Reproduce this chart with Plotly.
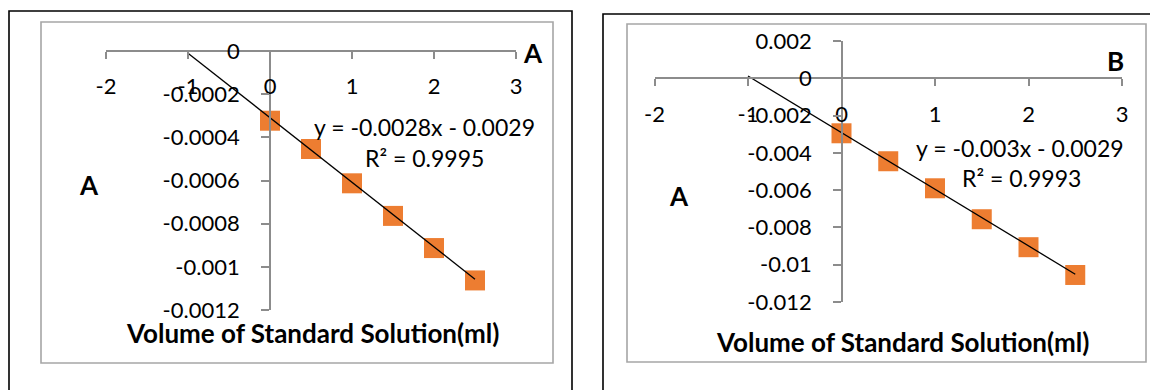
import plotly.graph_objects as go

# page body has an 8px default margin; the figure is sized so that the
# visible 1158x390 window is filled exactly
OFF = 8
W, H = 1158 - OFF, 390 - OFF

# ---------------- data ----------------
vol = [0, 0.5, 1, 1.5, 2, 2.5]
abs_a = [-0.000323, -0.000454, -0.000613, -0.000764, -0.000913, -0.001063]
abs_b = [-0.00295, -0.00445, -0.0059, -0.00756, -0.00906, -0.01055]

trend_x = [-1, 2.5]
trend_a = [-0.00001, -0.001057]
trend_b = [0.00012, -0.01051]

x_ticks = [-2, -1, 0, 1, 2, 3]
x_ticktext = ["-2", "-1", "0", "1", "2", "3"]
ya_ticks = [0, -0.0002, -0.0004, -0.0006, -0.0008, -0.001, -0.0012]
ya_ticktext = ["0", "-0.0002", "-0.0004", "-0.0006", "-0.0008", "-0.001", "-0.0012"]
yb_ticks = [0.002, 0, -0.002, -0.004, -0.006, -0.008, -0.01, -0.012]
yb_ticktext = ["0.002", "0", "-0.002", "-0.004", "-0.006", "-0.008", "-0.01", "-0.012"]

eq_a = ["y = -0.0028x - 0.0029", "R² = 0.9995"]
eq_b = ["y = -0.003x - 0.0029", "R² = 0.9993"]
x_title = "Volume of Standard Solution(ml)"
y_title = "A"
corner_a = "A"
corner_b = "B"


def fx(p):
    return (p - OFF) / W


def fy(p):
    return 1 - (p - OFF) / H


FONT = "Lato"
ORANGE = "#ED7D31"
AXC = "#8C8C8C"

fig = go.Figure()

fig.add_trace(go.Scatter(x=vol, y=abs_a, mode="markers", xaxis="x", yaxis="y",
                         marker=dict(symbol="square", size=20, color=ORANGE, line=dict(width=0)),
                         cliponaxis=False, showlegend=False))
fig.add_trace(go.Scatter(x=trend_x, y=trend_a, mode="lines", xaxis="x", yaxis="y",
                         line=dict(color="black", width=1.3), cliponaxis=False, showlegend=False))
fig.add_trace(go.Scatter(x=vol, y=abs_b, mode="markers", xaxis="x2", yaxis="y2",
                         marker=dict(symbol="square", size=20, color=ORANGE, line=dict(width=0)),
                         cliponaxis=False, showlegend=False))
fig.add_trace(go.Scatter(x=trend_x, y=trend_b, mode="lines", xaxis="x2", yaxis="y2",
                         line=dict(color="black", width=1.3), cliponaxis=False, showlegend=False))

tickfont = dict(family=FONT, size=22, color="black")
common = dict(showgrid=False, zeroline=False, showline=True, linecolor=AXC, linewidth=1.8,
              ticks="outside", tickcolor=AXC, tickwidth=1.5, tickfont=tickfont,
              automargin=False)

fig.update_layout(
    template="none",
    width=W, height=H, autosize=False,
    margin=dict(l=0, r=0, t=0, b=0, pad=0),
    paper_bgcolor="white", plot_bgcolor="rgba(0,0,0,0)",
    showlegend=False,
    xaxis=dict(domain=[fx(106), fx(516)], range=[-2, 3], anchor="free", position=fy(51),
               side="bottom", tickvals=x_ticks, ticktext=x_ticktext, ticklen=7,
               ticklabelstandoff=9, **common),
    yaxis=dict(domain=[fy(310), fy(51)], range=[-0.0012, 0], anchor="free", position=fx(270),
               side="left", tickvals=ya_ticks, ticktext=ya_ticktext, ticklen=8,
               ticklabelstandoff=17, **common),
    xaxis2=dict(domain=[fx(654.5), fx(1122)], range=[-2, 3], anchor="free",
                position=fy(78.3), side="bottom", tickvals=x_ticks, ticktext=x_ticktext,
                ticklen=7, ticklabelstandoff=9, **common),
    yaxis2=dict(domain=[fy(302), fy(41)], range=[-0.012, 0.002], anchor="free",
                position=fx(842), side="left", tickvals=yb_ticks, ticktext=yb_ticktext,
                ticklen=8, ticklabelstandoff=17, **common),
)

shapes = [
    # outer black frames
    dict(type="path", xref="paper", yref="paper",
         path=f"M {fx(9)},{fy(420)} L {fx(9)},{fy(11)} L {fx(572)},{fy(11)} L {fx(572)},{fy(420)}",
         line=dict(color="black", width=1.6)),
    dict(type="path", xref="paper", yref="paper",
         path=f"M {fx(603)},{fy(420)} L {fx(603)},{fy(14)} L {fx(1170)},{fy(14)}",
         line=dict(color="black", width=1.6)),
    # inner chart-area frames
    dict(type="rect", xref="paper", yref="paper", x0=fx(41), x1=fx(553), y0=fy(363), y1=fy(22),
         line=dict(color="#A6A6A6", width=1.6)),
    dict(type="rect", xref="paper", yref="paper", x0=fx(627), x1=fx(1146), y0=fy(362), y1=fy(24),
         line=dict(color="#A6A6A6", width=1.6)),
]
fig.update_layout(shapes=shapes)

eqfont = dict(family=FONT, size=23, color="black")
bold = dict(family=FONT, size=26, color="black")


def ann(text, x, y, font, xanchor="center"):
    fig.add_annotation(text=text, x=fx(x), y=fy(y), xref="paper", yref="paper",
                       showarrow=False, font=font, xanchor=xanchor, yanchor="middle")


ann(eq_a[0], 424, 127, eqfont)
ann(eq_a[1], 424, 158, eqfont)
ann(eq_b[0], 1020, 148, eqfont)
ann(eq_b[1], 1021, 178, eqfont)

ann(f"<b>{y_title}</b>", 89, 185, bold)
ann(f"<b>{y_title}</b>", 679, 196, bold)
ann(f"<b>{corner_a}</b>", 533, 53, bold)
ann(f"<b>{corner_b}</b>", 1115, 61, bold)
ann(f"<b>{x_title}</b>", 312, 333, bold)
ann(f"<b>{x_title}</b>", 903, 342, bold)

fig.write_html("out.html")
